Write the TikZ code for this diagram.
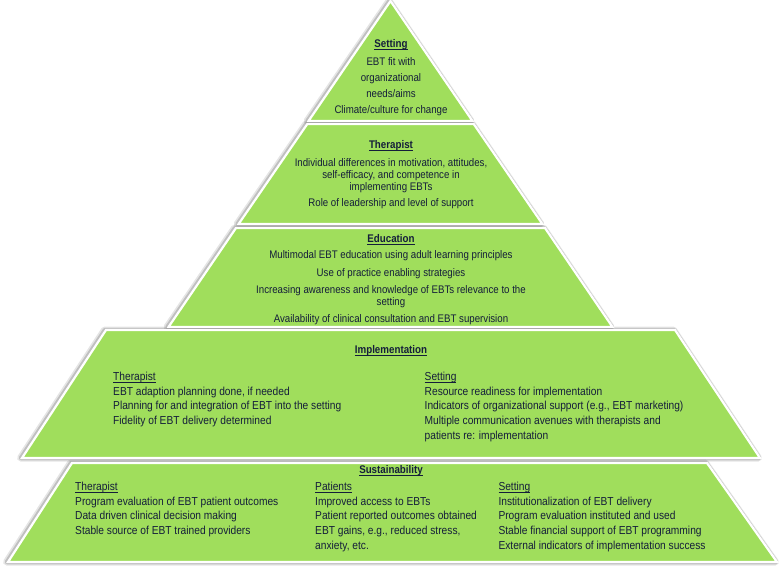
\documentclass[tikz,border=0pt]{standalone}
\usepackage{fontspec}
\setmainfont{Liberation Sans}[FakeStretch=0.88]
\definecolor{tiergreen}{RGB}{160,222,92}
\definecolor{txtnavy}{RGB}{20,30,58}
\newcommand\myul[1]{\setbox0\hbox{#1}\rlap{\rule[-1.8pt]{\wd0}{0.65pt}}\box0}
\begin{document}
\begin{tikzpicture}[x=1pt,y=-1pt,
  halo/.style={draw=black, opacity=0.16, line width=4.5pt, line join=round, xshift=-1pt},
  halob/.style={draw=black, opacity=0.10, line width=7pt, line join=round, xshift=-1.5pt},
  tier/.style={fill=tiergreen, draw=white, line width=2.2pt, line join=miter},
  ts/.style={text=txtnavy, inner sep=0pt, font=\fontsize{11}{13}\selectfont},
  tb/.style={text=txtnavy, inner sep=0pt, font=\fontsize{11.6}{14}\selectfont},
  hd/.style={text=txtnavy, inner sep=0pt, font=\fontsize{11.1}{13}\selectfont\bfseries},
  ctr/.style={anchor=base},
  lft/.style={anchor=base west}]
\useasboundingbox (0,0) rectangle (782,571);
\fill[white] (0,0) rectangle (782,571);
% shapes
\def\tA{(390.5,1) -- (472.5,121) -- (308.5,121) -- cycle}
\def\tB{(307.3,124) -- (473.7,124) -- (542.4,224) -- (238.6,224) -- cycle}
\def\tC{(236,228) -- (545,228) -- (612.5,327) -- (168.5,327) -- cycle}
\def\tD{(106,330) -- (675,330) -- (760,458) -- (22,458) -- cycle}
\def\tE{(72,463) -- (707,463) -- (777,562) -- (8,562) -- cycle}
\foreach \p in {\tA,\tB,\tC,\tD,\tE}{\draw[halob] \p; \draw[halo] \p;}
\path[tier] \tA;
\path[tier] \tB;
\path[tier] \tC;
\path[tier] \tD;
\path[tier] \tE;
\coordinate (apex) at (390.5,1);
% tier 1
\node[hd,ctr] (h1) at (391,47.5) {\myul{Setting}};
\node[ts,ctr] (a1) at (391,65) {EBT fit with};
\node[ts,ctr] (a2) at (391,81.5) {organizational};
\node[ts,ctr] (a3) at (391,97.5) {needs/aims};
\node[ts,ctr] (a4) at (391,113.5) {Climate/culture for change};
% tier 2
\node[hd,ctr] (h2) at (391,148.5) {\myul{Therapist}};
\node[ts,ctr] (b1) at (391,166.5) {Individual differences in motivation, attitudes,};
\node[ts,ctr] (b2) at (391,178.5) {self-efficacy, and competence in};
\node[ts,ctr] (b3) at (391,190.5) {implementing EBTs};
\node[ts,ctr] (b4) at (391,206.5) {Role of leadership and level of support};
% tier 3
\node[hd,ctr] (h3) at (391,242.5) {\myul{Education}};
\node[ts,ctr] (c1) at (391,258.5) {Multimodal EBT education using adult learning principles};
\node[ts,ctr] (c2) at (391,276.5) {Use of practice enabling strategies};
\node[ts,ctr] (c3) at (391,293.5) {Increasing awareness and knowledge of EBTs relevance to the};
\node[ts,ctr] (c4) at (391,305.5) {setting};
\node[ts,ctr] (c5) at (391,322.5) {Availability of clinical consultation and EBT supervision};
% tier 4
\node[hd,ctr] (h4) at (391,353.5) {\myul{Implementation}};
\node[tb,lft] (d1) at (113,380.5) {\myul{Therapist}};
\node[tb,lft] (d2) at (113,395.2) {EBT adaption planning done, if needed};
\node[tb,lft] (d3) at (113,409.9) {Planning for and integration of EBT into the setting};
\node[tb,lft] (d4) at (113,424.6) {Fidelity of EBT delivery determined};
\node[tb,lft] (e1) at (424.5,380.5) {\myul{Setting}};
\node[tb,lft] (e2) at (424.5,395.2) {Resource readiness for implementation};
\node[tb,lft] (e3) at (424.5,409.9) {Indicators of organizational support (e.g., EBT marketing)};
\node[tb,lft] (e4) at (424.5,424.6) {Multiple communication avenues with therapists and};
\node[tb,lft] (e5) at (424.5,439.3) {patients re: implementation};
% tier 5
\node[hd,ctr] (h5) at (391,473.5) {\myul{Sustainability}};
\node[tb,lft] (f1) at (75,490.4) {\myul{Therapist}};
\node[tb,lft] (f2) at (75,505.1) {Program evaluation of EBT patient outcomes};
\node[tb,lft] (f3) at (75,519.8) {Data driven clinical decision making};
\node[tb,lft] (f4) at (75,534.5) {Stable source of EBT trained providers};
\node[tb,lft] (g1) at (315,490.4) {\myul{Patients}};
\node[tb,lft] (g2) at (315,505.1) {Improved access to EBTs};
\node[tb,lft] (g3) at (315,519.8) {Patient reported outcomes obtained};
\node[tb,lft] (g4) at (315,534.5) {EBT gains, e.g., reduced stress,};
\node[tb,lft] (g5) at (315,549.2) {anxiety, etc.};
\node[tb,lft] (k1) at (498.3,490.4) {\myul{Setting}};
\node[tb,lft] (k2) at (498.3,505.1) {Institutionalization of EBT delivery};
\node[tb,lft] (k3) at (498.3,519.8) {Program evaluation instituted and used};
\node[tb,lft] (k4) at (498.3,534.5) {Stable financial support of EBT programming};
\node[tb,lft] (k5) at (498.3,549.2) {External indicators of implementation success};
\end{tikzpicture}
\end{document}
